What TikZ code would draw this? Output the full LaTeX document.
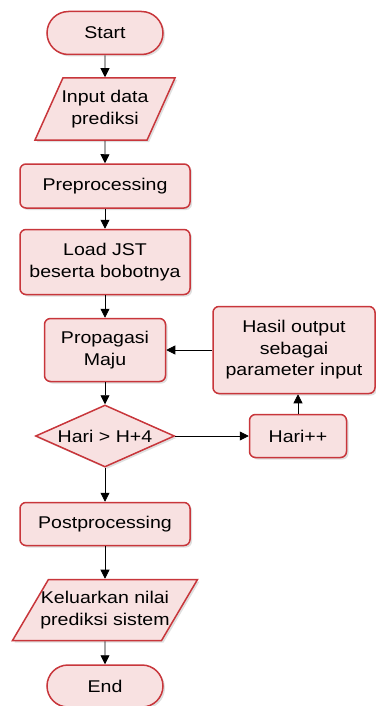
\documentclass[tikz,border=0pt]{standalone}
\usepackage{fontspec}
\setmainfont{Liberation Sans}[FakeStretch=1.15]
\usetikzlibrary{shapes.misc,shapes.geometric,shadows,arrows.meta}
\definecolor{garis}{HTML}{C8363B}
\definecolor{isi}{HTML}{F8E1E1}
\begin{document}
\begin{tikzpicture}[x=1pt,y=-1pt,
    kotak/.style={draw=garis,fill=isi,line width=1.5pt,
        drop shadow={opacity=0.25,shadow xshift=2pt,shadow yshift=-2pt},
        align=center,inner sep=2pt,font=\fontsize{17}{21.5}\selectfont},
    proses/.style={kotak,rectangle,rounded corners=6pt},
    terminal/.style={kotak,rounded rectangle},
    data/.style={kotak,trapezium,trapezium stretches body=true,inner xsep=-14pt},
    cek/.style={kotak,diamond,inner sep=0pt,aspect=2.24},
    panah/.style={-{Triangle[width=9pt,length=9pt]},line width=0.8pt}]
    \useasboundingbox (0,0) rectangle (375,706);
    %alur utama
    \node[terminal,minimum width=120,minimum height=43] (start) at (105,33) {Start};
    \node[data,trapezium left angle=56,trapezium right angle=124,
        minimum width=140,minimum height=62] (input) at (105,109) {Input data\\prediksi};
    \node[proses,minimum width=170,minimum height=44] (prep) at (105,186) {Preprocessing};
    \node[proses,minimum width=170,minimum height=65] (load) at (105,262) {Load JST\\beserta bobotnya};
    \node[proses,minimum width=121,minimum height=63] (prop) at (105,350) {Propagasi\\Maju};
    \node[cek,minimum width=139,minimum height=62] (cond) at (105,436) {Hari > H+4};
    \node[proses,minimum width=170,minimum height=43] (post) at (105,524) {Postprocessing};
    \node[data,trapezium left angle=49,trapezium right angle=131,
        minimum width=185,minimum height=61] (out) at (105,610) {Keluarkan nilai\\prediksi sistem};
    \node[terminal,minimum width=120,minimum height=42] (end) at (105,686) {End};
    %perulangan
    \node[proses,minimum width=97,minimum height=43] (inc) at (298,436) {Hari++};
    \node[proses,minimum width=162,minimum height=87] (hasil) at (294,350) {Hasil output\\sebagai\\parameter input};
    \foreach \a/\b in {start/input,input/prep,prep/load,load/prop,prop/cond,cond/post,post/out,out/end}
        \draw[panah] (\a) -- (\b);
    \draw[panah] (cond.east) -- (inc.west);
    \draw[panah] (inc.north) -- (inc.north |- hasil.south);
    \draw[panah] (hasil.west) -- (prop.east);
\end{tikzpicture}
\end{document}
